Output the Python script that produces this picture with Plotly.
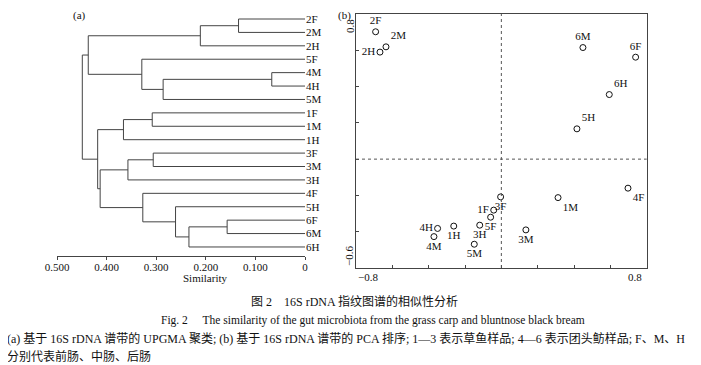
import plotly.graph_objects as go

# page is 701x365; the browser's default 8px body margin offsets the figure
OFF = 8
W, H = 701 - OFF, 365 - OFF

# ---------------- (a) dendrogram data ----------------
leaves = ["2F", "2M", "2H", "5F", "4M", "4H", "5M", "1F", "1M", "1H",
          "3F", "3M", "3H", "4F", "5H", "6F", "6M", "6H"]
# merges: (child_a, child_b, similarity height); children are node ids
# (0..17 leaves, 18+ merges in order)
merge_a = [0, 18, 4, 20, 3, 19, 7, 24, 10, 26, 15, 28, 14, 13, 27, 25, 23]
merge_b = [1, 2, 5, 6, 21, 22, 8, 9, 11, 12, 16, 17, 29, 30, 31, 32, 33]
merge_h = [0.134, 0.211, 0.067, 0.286, 0.329, 0.437, 0.308, 0.366, 0.306,
           0.357, 0.157, 0.234, 0.261, 0.327, 0.413, 0.418, 0.449]
sim_ticks = [0.5, 0.4, 0.3, 0.2, 0.1, 0.0]
sim_ticktext = ["0.500", "0.400", "0.300", "0.200", "0.100", "0"]

# ---------------- (b) PCA data ----------------
pca_labels = ["2F", "2M", "2H", "6M", "6F", "6H", "5H", "4F", "1M", "3F",
              "1F", "5F", "3H", "1H", "4H", "4M", "5M", "3M"]
pca_x = [-0.692, -0.635, -0.668, 0.449, 0.739, 0.594, 0.416, 0.697, 0.312,
         -0.004, -0.042, -0.059, -0.119, -0.262, -0.351, -0.371, -0.149, 0.135]
pca_y = [0.702, 0.619, 0.590, 0.615, 0.562, 0.356, 0.167, -0.160, -0.212,
         -0.208, -0.281, -0.320, -0.364, -0.369, -0.382, -0.427, -0.469, -0.390]
pca_textpos = ["top center", "top right", "middle left", "top center", "top center",
               "top right", "top right", "bottom right", "bottom right", "bottom center",
               "middle left", "bottom center", "bottom center", "bottom center",
               "middle left", "bottom center", "bottom center", "bottom center"]
pca_ticks = [-0.8, -0.6, -0.4, -0.2, 0.0, 0.2, 0.4, 0.6, 0.8]
pca_yticks = [-0.6, -0.4, -0.2, 0.0, 0.2, 0.4, 0.6, 0.8]

SERIF = "Liberation Serif, Times New Roman, serif"
MIXED = "Liberation Serif, Noto Sans CJK SC, serif"
LINE = "#444444"

# build dendrogram polyline through the node structure
node_y = {i: float(i) for i in range(len(leaves))}
node_h = {i: 0.0 for i in range(len(leaves))}
dx, dy = [], []
for k, (a, b, h) in enumerate(zip(merge_a, merge_b, merge_h)):
    nid = len(leaves) + k
    dx += [node_h[a], h, h, node_h[b], None]
    dy += [node_y[a], node_y[a], node_y[b], node_y[b], None]
    node_y[nid] = (node_y[a] + node_y[b]) / 2
    node_h[nid] = h

fig = go.Figure()
fig.add_trace(go.Scatter(x=dx, y=dy, mode="lines", xaxis="x", yaxis="y",
                         line=dict(color=LINE, width=1), hoverinfo="skip",
                         showlegend=False))
fig.add_trace(go.Scatter(x=pca_x, y=pca_y, mode="markers+text", xaxis="x2", yaxis="y2",
                         text=pca_labels, textposition=pca_textpos,
                         textfont=dict(family=SERIF, size=11, color="#111"),
                         marker=dict(symbol="circle-open", size=6, color="#111",
                                     line=dict(width=1)),
                         showlegend=False))

def px(x):
    return (x - OFF) / W

def py(y):
    return 1 - (y - OFF) / H

n = len(leaves)
top_px, bot_px, first_px, step = 10, 256, 19, 13.41
fig.update_layout(
    width=W, height=H,
    margin=dict(l=0, r=0, t=0, b=0, autoexpand=False),
    paper_bgcolor="white", plot_bgcolor="white",
    font=dict(family=SERIF, size=11, color="#111"),
    xaxis=dict(domain=[px(57), px(305)], range=[0.5, 0.0], tickvals=sim_ticks,
               ticktext=sim_ticktext, ticks="outside", ticklen=3, tickcolor=LINE,
               ticklabelstandoff=-2,
               showline=True, linecolor=LINE, linewidth=1, showgrid=False,
               zeroline=False, automargin=False, fixedrange=True),
    yaxis=dict(domain=[py(bot_px), py(top_px)],
               range=[(bot_px - first_px) / step, (top_px - first_px) / step],
               side="right", anchor="x", tickvals=list(range(n)), ticktext=leaves,
               ticks="", showline=False, showgrid=False, zeroline=False,
               automargin=False, fixedrange=True),
    xaxis2=dict(domain=[px(356), px(646.7)], range=[-0.8, 0.8], anchor="y2",
                tickvals=pca_ticks, showticklabels=False, ticks="inside", ticklen=3,
                tickcolor=LINE, showline=True, mirror=True, linecolor=LINE,
                linewidth=1, showgrid=False, zeroline=False, automargin=False,
                fixedrange=True),
    yaxis2=dict(domain=[py(268), py(14)], range=[-0.6, 0.8], anchor="x2",
                tickvals=pca_yticks, showticklabels=False, ticks="inside", ticklen=3,
                tickcolor=LINE, showline=True, mirror=True, linecolor=LINE,
                linewidth=1, showgrid=False, zeroline=False, automargin=False,
                fixedrange=True),
    shapes=[
        dict(type="line", xref="x2", yref="y2 domain", x0=0, x1=0, y0=0, y1=1,
             line=dict(color="#555", width=1, dash="dot")),
        dict(type="line", xref="x2 domain", yref="y2", x0=0, x1=1, y0=0, y1=0,
             line=dict(color="#555", width=1, dash="dot")),
    ],
)

ann = []
def note(text, x, y, xref="paper", yref="paper", **kw):
    d = dict(text=text, x=x, y=y, xref=xref, yref=yref, showarrow=False,
             yanchor="middle")
    d.update(kw)
    ann.append(d)

note("(a)", px(72), py(8), yanchor="top", borderpad=0)
note("(b)", px(344), py(8), yanchor="top", borderpad=0)
note("Similarity", px(181), py(277.5))
# PCA end tick labels
note("\u22120.8", -0.8, py(277), xref="x2", xanchor="left")
note("0.8", 0.8, py(277), xref="x2", xanchor="right", xshift=-3)
note("0.8", px(350), 0.8, yref="y2", yanchor="top", yshift=-3, textangle=-90)
note("\u22120.6", px(349), -0.6, yref="y2", yanchor="bottom", textangle=-90)
# captions
note("图 2　16S rDNA 指纹图谱的相似性分析", px(354), py(301),
     font=dict(family=MIXED, size=12))
note("Fig. 2　 The similarity of the gut microbiota from the grass carp and bluntnose black bream",
     px(373), py(320), font=dict(family=SERIF, size=11.5))
note("(a) 基于 16S rDNA 谱带的 UPGMA 聚类; (b) 基于 16S rDNA 谱带的 PCA 排序; 1—3 表示草鱼样品; 4—6 表示团头鲂样品; F、M、H",
     px(5), py(338), xanchor="left", font=dict(family=MIXED, size=12))
note("分别代表前肠、中肠、后肠", px(5), py(356), xanchor="left",
     font=dict(family=MIXED, size=12))
fig.update_layout(annotations=ann)

fig.write_html("out.html")
